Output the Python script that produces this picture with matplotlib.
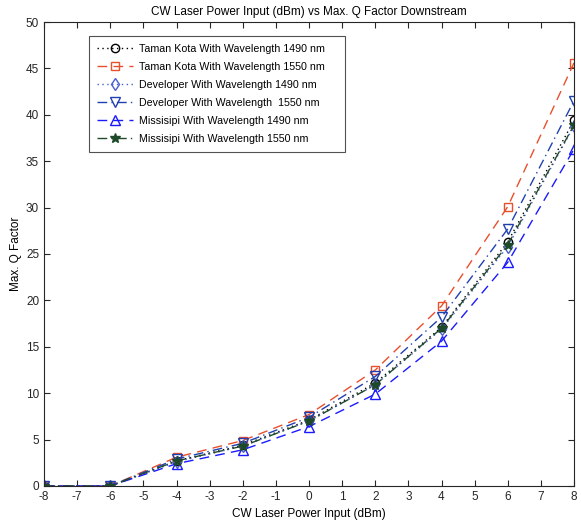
import matplotlib
matplotlib.use('Agg')
import matplotlib.pyplot as plt

plt.rcParams['font.family'] = ['Liberation Sans', 'DejaVu Sans']
plt.rcParams['axes.unicode_minus'] = False

power_dbm = [-8, -6, -4, -2, 0, 2, 4, 6, 8]

tk_1490 = [0, 0, 2.7, 4.4, 7.1, 11.1, 17.1, 26.3, 39.4]
tk_1550 = [0, 0, 3.1, 4.9, 7.7, 12.5, 19.4, 30.1, 45.6]
dev_1490 = [0, 0, 2.6, 4.3, 7.0, 10.9, 16.9, 25.8, 38.8]
dev_1550 = [0, 0, 2.9, 4.6, 7.4, 11.8, 18.2, 27.7, 41.5]
mis_1490 = [0, 0, 2.4, 3.9, 6.4, 9.9, 15.6, 24.1, 36.3]
mis_1550 = [0, 0, 2.7, 4.3, 7.0, 10.9, 17.0, 26.0, 38.9]

labels = ['Taman Kota With Wavelength 1490 nm',
          'Taman Kota With Wavelength 1550 nm',
          'Developer With Wavelength 1490 nm',
          'Developer With Wavelength  1550 nm',
          'Missisipi With Wavelength 1490 nm',
          'Missisipi With Wavelength 1550 nm']

# matlab-like dash patterns
DOT = (0, (1, 2.5))
DASH = (0, (7, 4.5))
DASHDOT = (0, (7, 3, 1, 3))

fig = plt.figure(figsize=(5.81, 5.29), dpi=100)
ax = fig.add_axes([44/581, 1-486/529, 530/581, 464/529])

ax.plot(power_dbm, tk_1490, ls=DOT, color='black', marker='o', mfc='none', ms=6, lw=1, label=labels[0])
ax.plot(power_dbm, tk_1550, ls=DASH, color='#e8502d', marker='s', mfc='none', ms=6, lw=1, label=labels[1])
ax.plot(power_dbm, dev_1490, ls=DOT, color='#4a5fd0', marker='d', mfc='none', ms=6, lw=1, label=labels[2])
ax.plot(power_dbm, dev_1550, ls=DASHDOT, color='#2040b0', marker='v', mfc='none', ms=7, lw=1, label=labels[3])
ax.plot(power_dbm, mis_1490, ls=DASH, color='#1a1aff', marker='^', mfc='none', ms=7, lw=1, label=labels[4])
ax.plot(power_dbm, mis_1550, ls=DASHDOT, color='#1e4a2a', marker='*', mfc='#1e4a2a', ms=7, lw=1, label=labels[5])

ax.set_xlim(-8, 8)
ax.set_ylim(0, 50)
ax.set_xticks(range(-8, 9))
ax.set_yticks(range(0, 51, 5))
ax.tick_params(direction='in', top=True, right=True, labelsize=8.5, length=4, colors='#262626')
for s in ax.spines.values():
    s.set_color('#262626')
    s.set_linewidth(0.8)

ax.set_title('CW Laser Power Input (dBm) vs Max. Q Factor Downstream', fontsize=8.5, pad=5)
ax.set_xlabel('CW Laser Power Input (dBm)', fontsize=8.5, labelpad=4)
ax.set_ylabel('Max. Q Factor', fontsize=8.5, labelpad=3)

# legend box spans a fixed width in axes coords
leg_w = 256 / 530
leg_h = 115 / 464
leg = ax.legend(loc='upper left', bbox_to_anchor=(45/530, 1-14/464-leg_h, leg_w, leg_h),
                mode='expand', fontsize=7.7,
                frameon=True, fancybox=False, edgecolor='#262626', handlelength=3.4,
                borderpad=0.75, labelspacing=0.75, handletextpad=0.55, borderaxespad=0)
leg.get_frame().set_linewidth(0.8)

fig.savefig('out.png', dpi=100)
